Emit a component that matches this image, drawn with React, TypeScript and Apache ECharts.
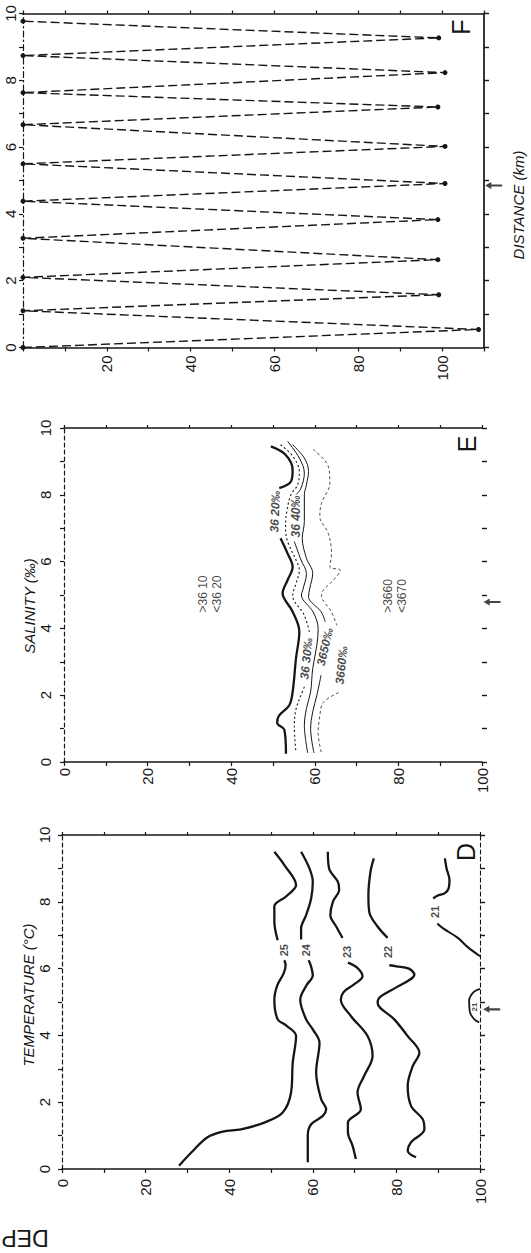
import React, { useEffect, useRef } from "react";
import * as echarts from "echarts";

// ---------- tick labels ----------
const depthLabelsF = [20, 40, 60, 80, 100];
const depthLabelsED = [0, 20, 40, 60, 80, 100];
const distanceLabels = [0, 2, 4, 6, 8, 10];

// ---------- panel F : tow-yo track  [depth (m), distance (km)] ----------
const towTrack = [
  [0, 0], [108.7, 0.54], [0, 1.1], [99.2, 1.58], [0, 2.1], [99, 2.63], [0, 3.27],
  [99, 3.83], [0, 4.38], [100.7, 4.91], [0, 5.5], [100.7, 6.02], [0, 6.67],
  [99, 7.2], [0, 7.63], [100.7, 8.23], [0, 8.74], [99.2, 9.27], [0, 9.77],
];

// ---------- panel E : salinity contours ----------
const sal3620Top = [[49.5, 9.45], [53, 9.2], [54.7, 8.75], [54.3, 8.4], [51.5, 8.2]];
const sal3620Bottom = [
  [51.8, 6.7], [53.5, 6.24], [54.7, 5.84], [53.5, 5.45], [52.3, 5.05], [54.7, 4.5],
  [56.3, 3.9], [55.5, 3.1], [54.7, 2.1], [53.9, 1.7], [51.4, 1.38], [51, 1.17],
  [52.7, 0.97], [53.1, 0.25],
];
const sal3630Top = [
  [51.8, 9.5], [54.7, 9.16], [56.3, 8.7], [55.9, 8.3], [54.3, 8.0], [53.3, 7.5],
  [53, 7.0], [53.5, 6.6], [55.5, 6.05], [56.3, 5.75], [55.5, 5.34], [54.7, 4.99],
  [57.5, 4.39], [58.8, 3.85],
];
const sal3630Bottom = [[57.5, 2.25], [56.7, 2.0], [55.5, 1.58], [55.1, 1.08], [55.5, 0.27]];
const sal3640Top = [[53.5, 9.6], [56.3, 9.1], [57.5, 8.65], [56.7, 8.2], [55.5, 8.0]];
const sal3640Bottom = [
  [55.1, 6.6], [56.7, 6.05], [58, 5.64], [57.1, 5.14], [56.8, 5.0], [59.6, 4.49],
  [60.8, 3.99], [60.5, 3.5], [59.5, 2.8], [59, 2.1], [58, 1.6], [57.5, 1.1], [58.3, 0.27],
];
const sal3650Top = [
  [54.7, 9.5], [57.5, 9.1], [58.5, 8.7], [58, 8.3], [57.5, 8.0], [57.5, 7.2], [57, 6.7],
  [58, 6.1], [59.5, 5.65], [58.8, 5.2], [58.5, 4.95], [61.5, 4.5], [62.5, 4.2],
];
const sal3650Bottom = [[61.5, 2.6], [60.5, 2.0], [59.5, 1.5], [59, 1.0], [59.8, 0.27]];
const sal3660Top = [
  [59.6, 9.36], [63.2, 8.86], [63.6, 8.35], [61.6, 7.75], [61.2, 7.35], [63.2, 6.85],
  [64, 6.24], [63.6, 5.84], [66.1, 5.74], [64.4, 5.44], [62, 5.14], [61.6, 4.99],
  [64, 4.49], [65.3, 4.09],
];
const sal3660Bottom = [[65.7, 2.08], [62, 1.78], [61.2, 1.38], [60.8, 0.87], [61.6, 0.27]];

const salContourLabels = [
  { name: "36 20‰", value: [50.5, 7.5], rot: 88 },
  { name: "36 40‰", value: [55.6, 7.35], rot: 90 },
  { name: "36 30‰", value: [58, 3.1], rot: 84 },
  { name: "3650‰", value: [62.4, 3.45], rot: 77 },
  { name: "3660‰", value: [66.4, 2.9], rot: 84 },
];
const salRegionLabels = [
  { name: ">36 10\n<36 20", value: [34.9, 5.03] },
  { name: ">3660\n<3670", value: [79.2, 4.97] },
];

// ---------- panel D : isotherms ----------
const t25Lower = [
  [28, 0.1], [31, 0.5], [34.8, 0.95], [38.5, 1.12], [42.8, 1.19], [48.4, 1.39],
  [52.8, 1.69], [54.8, 2.29], [55.2, 3.18], [56, 3.98], [53.6, 4.3], [51.6, 4.48],
  [50.8, 5.07], [51.5, 5.5], [53, 5.85], [53.5, 6.1], [53.2, 6.25],
];
const t25Upper = [[51.6, 6.85], [50.8, 7.41], [50.8, 7.86], [53.6, 8.16], [56, 8.5], [53.2, 9.1], [50.8, 9.5]];
const t24Lower = [
  [58.8, 0.2], [58.8, 1.0], [59.6, 1.34], [62.4, 1.59], [63.2, 1.79], [62, 2.09],
  [60.8, 2.89], [61.6, 3.78], [60, 4.18], [58.4, 4.48], [57, 5.07], [58.5, 5.5],
  [60, 5.8], [59.5, 6.1], [59, 6.25],
];
const t24Upper = [[57.2, 6.87], [57.2, 7.2], [58.4, 7.6], [59.6, 8.1], [60, 8.6], [59.2, 9.0], [57.2, 9.5]];
const t23Lower = [
  [70.3, 0.3], [69.5, 0.7], [68.4, 1.1], [68.4, 1.39], [71.5, 1.79], [70.7, 2.29],
  [72.3, 2.79], [74.3, 3.38], [73.1, 3.98], [69.1, 4.58], [66.7, 5.07], [67.4, 5.3],
  [69.8, 5.52], [71.9, 5.77], [70.6, 6.03], [68.4, 6.18],
];
const t23Upper = [[67.1, 6.92], [65.6, 7.26], [64.2, 7.6], [64.8, 8.0], [66.3, 8.36], [66, 8.6], [63.9, 9.0], [63.6, 9.5]];
const t22Lower = [
  [84.7, 0.35], [82.7, 0.55], [83.5, 0.8], [86.7, 1.19], [86.3, 1.49], [83.5, 1.89],
  [82.7, 2.49], [83.9, 3.08], [85.5, 3.48], [82.7, 3.98], [79.5, 4.48], [75.5, 4.98],
  [76.2, 5.16], [80.3, 5.46], [84.3, 5.82], [83, 6.0], [80, 6.07], [78.3, 6.1],
];
const t22Upper = [[77.9, 6.92], [75.5, 7.26], [73.5, 7.7], [73.3, 8.2], [73.8, 8.9], [74.6, 9.3]];
const t21Lower = [[100, 6.37], [97, 6.65], [94.7, 6.92], [91.1, 7.21], [89.8, 7.35]];
const t21Upper = [[88.8, 8.1], [89.8, 8.18], [91.6, 8.26], [92.5, 8.4], [92.7, 8.65], [92, 9.0], [91.6, 9.3]];
const t21Cell = [[100, 5.39], [98.4, 5.29], [97.4, 5.04], [97.6, 4.69], [98.6, 4.49], [99.8, 4.39]];

const isothermLabels = [
  { name: "25", value: [53, 6.55] },
  { name: "24", value: [58.4, 6.55] },
  { name: "23", value: [68.2, 6.5] },
  { name: "22", value: [78, 6.5] },
  { name: "21", value: [89.2, 7.7] },
];
const isothermCellLabel = [{ name: "21", value: [98.6, 4.85] }];

// stations marked by arrows on the right-hand axes (km)
const arrowKm = [4.85, 4.79, 4.78];

const INK = "#161616";
const FONT = "'Liberation Sans', Arial, 'DejaVu Sans', sans-serif";

function buildOption() {
  const panels = [
    { max: 110, labels: depthLabelsF, leftType: [6, 3, 1.5, 3] as any, right: "solid", xMargin: 8, yMargin: 5 },
    { max: 100, labels: depthLabelsED, leftType: [4, 3] as any, right: "none", xMargin: 6, yMargin: 11 },
    { max: 100, labels: depthLabelsED, leftType: [4, 3] as any, right: "dashed", xMargin: 10, yMargin: 10 },
  ];
  const xAxis: any[] = [];
  const yAxis: any[] = [];
  panels.forEach((p, g) => {
    xAxis.push({
      type: "value", gridIndex: g, position: "bottom", min: 0, max: p.max, interval: 10,
      axisLine: { show: true, onZero: false, lineStyle: { color: INK, width: 1.7 } },
      axisTick: { show: true, length: 4, lineStyle: { color: INK, width: 1.2 } },
      axisLabel: {
        show: true, rotate: 90, margin: p.xMargin, fontSize: 15, color: INK, fontFamily: FONT,
        showMinLabel: true, showMaxLabel: true,
        formatter: (v: number) => (p.labels.indexOf(v) >= 0 ? String(v) : ""),
      },
      splitLine: { show: false },
    });
    xAxis.push({
      type: "value", gridIndex: g, position: "top", min: 0, max: p.max, interval: 10,
      axisLine: { show: true, onZero: false, lineStyle: { color: INK, width: 1.7 } },
      axisTick: { show: true, length: 3, lineStyle: { color: INK, width: 1.2 } },
      axisLabel: { show: false },
      splitLine: { show: false },
    });
    yAxis.push({
      type: "value", gridIndex: g, position: "left", min: 0, max: 10, interval: 1,
      axisLine: { show: true, onZero: false, lineStyle: { color: INK, width: 1.2, type: p.leftType } },
      axisTick: { show: true, length: 4, lineStyle: { color: INK, width: 1.2 } },
      axisLabel: {
        show: true, rotate: 90, margin: p.yMargin, fontSize: 15, color: INK, fontFamily: FONT,
        showMinLabel: true, showMaxLabel: true,
        formatter: (v: number) => (distanceLabels.indexOf(v) >= 0 ? String(v) : ""),
      },
      splitLine: { show: false },
    });
    yAxis.push({
      type: "value", gridIndex: g, position: "right", min: 0, max: 10, interval: 1,
      axisLine: {
        show: p.right !== "none", onZero: false,
        lineStyle: { color: INK, width: p.right === "solid" ? 1.7 : 1.1, type: p.right === "dashed" ? [4, 3] : "solid" },
      },
      axisTick: { show: true, length: 5, lineStyle: { color: INK, width: 1.4 } },
      axisLabel: { show: false },
      splitLine: { show: false },
    });
  });

  const seg = (g: number, data: number[][], lineStyle: any) => ({
    type: "line", xAxisIndex: g * 2, yAxisIndex: g * 2, data, symbol: "none",
    smooth: 0.35, silent: true, z: 3, lineStyle: { color: INK, ...lineStyle },
  });
  const labels = (g: number, data: any[], fontSize: number, extra: any = {}) => ({
    type: "scatter", xAxisIndex: g * 2, yAxisIndex: g * 2, symbolSize: 0.01, silent: true, z: 5,
    itemStyle: { color: "transparent" },
    data: data.map((d) => ({
      name: d.name, value: d.value,
      label: d.rot !== undefined ? { rotate: d.rot } : undefined,
    })),
    label: {
      show: true, position: "inside", formatter: "{b}", rotate: 90, color: INK,
      fontSize, fontFamily: FONT, align: "center", verticalAlign: "middle", ...extra,
    },
  });

  const thick = { width: 2.3 };
  const series: any[] = [
    // F
    {
      type: "line", xAxisIndex: 0, yAxisIndex: 0, data: towTrack, symbol: "circle", symbolSize: 5,
      showSymbol: true, silent: true, z: 3,
      itemStyle: { color: INK }, lineStyle: { color: INK, width: 1.4, type: [9, 4] },
    },
    // E
    seg(1, sal3620Top, thick), seg(1, sal3620Bottom, thick),
    seg(1, sal3630Top, { width: 1.1, type: [2, 2.5] }), seg(1, sal3630Bottom, { width: 1.1, type: [2, 2.5] }),
    seg(1, sal3640Top, { width: 1 }), seg(1, sal3640Bottom, { width: 1 }),
    seg(1, sal3650Top, { width: 1 }), seg(1, sal3650Bottom, { width: 1 }),
    seg(1, sal3660Top, { width: 0.9, type: [3, 2.5], color: "#3a3a3a" }),
    seg(1, sal3660Bottom, { width: 0.9, type: [3, 2.5], color: "#3a3a3a" }),
    labels(1, salContourLabels, 12, { fontStyle: "italic", fontWeight: "bold" }),
    labels(1, salRegionLabels, 12, { lineHeight: 14 }),
    // D
    seg(2, t25Lower, thick), seg(2, t25Upper, thick),
    seg(2, t24Lower, thick), seg(2, t24Upper, thick),
    seg(2, t23Lower, thick), seg(2, t23Upper, thick),
    seg(2, t22Lower, thick), seg(2, t22Upper, thick),
    seg(2, t21Lower, { width: 2 }), seg(2, t21Upper, thick),
    seg(2, t21Cell, { width: 1.8 }),
    labels(2, isothermLabels, 11, { fontWeight: "bold" }),
    labels(2, isothermCellLabel, 8, { fontWeight: "bold" }),
  ];
  // station arrows on the right of each panel (left-pointing)
  const arrowDepth = [112.3, 102.4, 102.8];
  arrowKm.forEach((km, g) => {
    series.push({
      type: "scatter", xAxisIndex: g * 2, yAxisIndex: g * 2, clip: false, silent: true, z: 6,
      symbol: "path://M0,5 L8,0 L8,3.5 L22,3.5 L22,6.5 L8,6.5 L8,10 Z", symbolSize: [17, 7],
      itemStyle: { color: INK }, data: [[arrowDepth[g], km]],
    });
  });

  const rotText = (text: string, x: number, y: number, size: number, italic = true, rotation = Math.PI / 2) => ({
    type: "text", x, y, rotation, silent: true, z: 10,
    style: {
      text, fill: INK, align: "center", verticalAlign: "middle",
      font: `${italic ? "italic " : ""}${size}px ${FONT}`,
    },
  });

  return {
    animation: false,
    backgroundColor: "#ffffff",
    textStyle: { fontFamily: FONT },
    grid: [
      { left: 23, top: 13.5, width: 461, height: 334, containLabel: false, outerBoundsMode: "none" },
      { left: 64, top: 428, width: 418, height: 334, containLabel: false, outerBoundsMode: "none" },
      { left: 62, top: 835, width: 418, height: 334, containLabel: false, outerBoundsMode: "none" },
    ],
    xAxis,
    yAxis,
    series,
    graphic: [
      rotText("DISTANCE (km)", 518, 205, 15),
      rotText("SALINITY (‰)", 29, 606, 15),
      rotText("TEMPERATURE (°C)", 28, 995, 15),
      rotText("F", 461, 27, 25, false),
      rotText("E", 467, 444, 25, false),
      rotText("D", 466, 852, 25, false),
      rotText("DEP", 25, 1238, 23, false, Math.PI),
    ],
  };
}

export default function App() {
  const ref = useRef<HTMLDivElement>(null);
  useEffect(() => {
    if (!ref.current) return;
    const chart = echarts.init(ref.current, undefined, { renderer: "svg" });
    chart.setOption(buildOption() as any);
    return () => chart.dispose();
  }, []);
  return (
    <div
      ref={ref}
      style={{ position: "absolute", left: 0, top: 0, width: 531, height: 1253, background: "#fff" }}
    />
  );
}
